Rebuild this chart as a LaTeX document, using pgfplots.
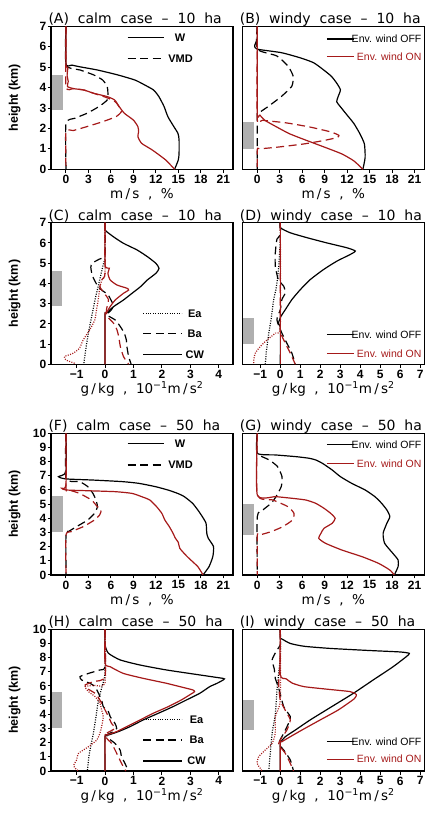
\documentclass[border=0pt]{standalone}
\usepackage{fontspec}
\setmainfont{Liberation Sans}
\newfontfamily\ttlfont[WordSpace=1.7]{DejaVu Sans}
\newfontfamily\lblfont[WordSpace=2.0]{DejaVu Sans}
\usepackage{pgfplots}
\pgfplotsset{compat=1.18}
\definecolor{dred}{RGB}{165,25,25}
\definecolor{boxgray}{RGB}{175,175,175}

\tikzset{
  k/.style={black, line width=1.2pt, smooth, tension=0.35},
  r/.style={dred, line width=1.2pt, smooth, tension=0.35},
  ds/.style={dash pattern=on 8pt off 4.5pt},
  dt/.style={dash pattern=on 1pt off 1.4pt},
}
\pgfplotsset{
  base/.style={scale only axis, width=182pt, anchor=south west, ymin=0,
    axis line style={line width=1.2pt},
    tick align=outside, xtick pos=bottom, ytick pos=left,
    major tick length=3.5pt, every tick/.style={black, line width=1pt},
    tick label style={font=\bfseries\fontsize{12}{13}\selectfont},
    yticklabel style={inner xsep=1pt},
    xticklabel style={inner ysep=2pt},
    /pgf/number format/assume math mode=true,
    every axis title/.style={at={(axis description cs:0,1)}, anchor=base west,
      xshift=-6pt, yshift=2.3pt, font=\ttlfont\fontsize{14}{16}\selectfont},
    every axis x label/.style={at={(axis description cs:0.5,0)}, anchor=base,
      yshift=-29.5pt, font=\lblfont\fontsize{13.5}{15}\selectfont},
    every axis y label/.style={at={(axis description cs:-0.2,0.5)}, rotate=90,
      anchor=center, font=\bfseries\fontsize{12.5}{14}\selectfont},
  },
  wind/.style={base, xmin=-2, xmax=22.3, xtick={0,3,...,21},
    xlabel={m\,/\,s , \%}},
  accC/.style={base, xmin=-1.9, xmax=4.5, xtick={-1,0,1,2,3,4},
    xticklabels={−1,0,1,2,3,4},
    xlabel={g\,/\,kg , 10\textsuperscript{−1}m\,/\,s\textsuperscript{2}}},
  accD/.style={base, xmin=-1.9, xmax=7.2, xtick={-1,0,...,7},
    xticklabels={−1,0,1,2,3,4,5,6,7},
    xlabel={g\,/\,kg , 10\textsuperscript{−1}m\,/\,s\textsuperscript{2}}},
  leftp/.style={ylabel={height (km)}},
  rightp/.style={ytick=\empty},
  h7/.style={height=143pt, ymax=7, ytick={0,...,7}},
  h7b/.style={height=141.6pt, ymax=7, ytick={0,...,7}},
  h10/.style={height=141.7pt, ymax=10, ytick={0,...,10}},
  gbox/.style={fill=boxgray, draw=none, forget plot},
}
% legend helpers (relative axis coordinates)
\newcommand\legline[4]{\draw[#1] (rel axis cs:#2,#4) -- (rel axis cs:#3,#4);}
\newcommand\legtxtc[3]{\node[font=\bfseries\fontsize{11}{12}\selectfont] at (rel axis cs:#1,#2) {#3};}
\newcommand\envlegend[2]{%
  \draw[black, line width=1.2pt] (rel axis cs:0.464,#1) -- (rel axis cs:0.612,#1);
  \node[anchor=east, inner sep=0pt, font=\fontsize{10.5}{12}\selectfont] at (rel axis cs:0.985,#1) {Env. wind OFF};
  \draw[dred, line width=1.2pt] (rel axis cs:0.464,#2) -- (rel axis cs:0.612,#2);
  \node[anchor=east, inner sep=0pt, text=dred, font=\fontsize{10.5}{12}\selectfont] at (rel axis cs:0.985,#2) {Env. wind ON};}

\begin{document}
\begin{tikzpicture}[x=1pt,y=1pt]
\useasboundingbox (0,0) rectangle (433,816);

% ---------------- (A) vertical velocity / VMD, calm, 10 ha
\begin{axis}[wind, h7, leftp, at={(51pt,646.7pt)}, title={(A) calm case – 10 ha}]
\addplot[gbox] coordinates {(-1.9,2.9) (-0.45,2.9) (-0.45,4.6) (-1.9,4.6)} -- cycle;
\addplot[k] coordinates {(0,7) (0,5.15) (0.8,5.1) (1.8,5.02) (4.2,4.86) (6.9,4.62) (9.2,4.37) (10.5,4.13) (11.7,3.88) (12.4,3.56) (13.1,3.07) (13.6,2.58) (14.4,2.09) (14.95,1.76) (15.1,1.44) (15.1,0.8) (15.0,0.46) (14.5,0)};
\addplot[k,ds] coordinates {(0,7) (0,5.1) (1.9,4.86) (3.7,4.62) (4.9,4.37) (5.5,4.05) (5.6,3.72) (5.5,3.39) (4.4,3.07) (2.8,2.74) (1.2,2.5) (0,2.25) (0,0)};
\addplot[r,ds] coordinates {(0,7) (0,4.05) (1.0,3.95) (2.4,3.88) (3.7,3.72) (5.5,3.5) (6.6,3.3) (7.2,3.0) (7.4,2.82) (6.7,2.58) (4.9,2.33) (2.8,2.09) (1.0,1.9) (0,1.84) (0,0)};
\addplot[r] coordinates {(0,7) (0,5.1) (0.25,5.0) (0.15,4.6) (0.3,4.3) (0.2,4.05) (1.0,3.95) (2.4,3.88) (3.7,3.72) (5.5,3.56) (6.5,3.39) (7.1,3.07) (7.8,2.74) (9.0,2.41) (9.6,2.09) (9.7,1.84) (9.6,1.6) (10.1,1.27) (11.5,0.95) (13.3,0.46) (14.5,0)};
\legline{black,line width=1.2pt}{0.421}{0.623}{0.920}
\legtxtc{0.709}{0.920}{W}
\legline{black,line width=1.2pt,ds}{0.421}{0.623}{0.776}
\legtxtc{0.712}{0.776}{VMD}
\end{axis}

% ---------------- (B) windy, 10 ha
\begin{axis}[wind, h7, rightp, at={(242.3pt,646.7pt)}, title={(B) windy case – 10 ha}]
\addplot[gbox] coordinates {(-1.95,1.0) (-0.45,1.0) (-0.45,2.3) (-1.95,2.3)} -- cycle;
\addplot[k] coordinates {(0,7) (0,6.4) (-0.35,6.05) (0,5.88) (3.2,5.71) (5.7,5.46) (7.5,5.22) (8.8,4.88) (9.9,4.55) (10.6,4.22) (11.1,3.89) (10.8,3.56) (10.6,3.31) (11.1,3.06) (12.0,2.65) (12.9,2.24) (13.7,1.74) (14.3,1.24) (14.4,0.58) (14.1,0)};
\addplot[k,ds] coordinates {(0,7) (0,5.88) (2.6,5.55) (4.1,5.05) (4.8,4.55) (4.6,4.06) (3.2,3.56) (1.4,3.06) (0.1,2.73) (0,2.6) (0,0)};
\addplot[r,ds] coordinates {(0,7) (0,2.45) (0.7,2.4) (3.9,2.27) (7.0,2.07) (9.8,1.83) (10.9,1.66) (10.6,1.55) (8.9,1.41) (6.2,1.24) (2.6,1.08) (0.3,1.0) (0,0.99) (0,0)};
\addplot[r] coordinates {(0,7) (0,2.75) (0.35,2.65) (1.0,2.4) (2.6,2.07) (4.3,1.74) (6.6,1.41) (9.0,1.08) (11.3,0.75) (12.9,0.41) (14.1,0)};
\envlegend{0.911}{0.787}
\end{axis}

% ---------------- (C) buoyancy terms, calm, 10 ha
\begin{axis}[accC, h7b, leftp, at={(51pt,451.7pt)}, title={(C) calm case – 10 ha}]
\addplot[gbox] coordinates {(-1.87,2.9) (-1.51,2.9) (-1.51,4.6) (-1.87,4.6)} -- cycle;
\addplot[k,dt] coordinates {(0,7) (0,5.3) (-0.05,5.0) (-0.15,4.4) (-0.25,3.8) (-0.35,3.2) (-0.45,2.5) (-0.55,1.8) (-0.65,1.0) (-0.75,0)};
\addplot[k,ds] coordinates {(0,7) (0,5.4) (-0.2,5.2) (-0.45,5.0) (-0.5,4.8) (-0.45,4.4) (-0.35,4.1) (-0.25,3.85) (-0.1,3.65) (0.1,3.45) (0.2,3.2) (0.3,2.9) (0.2,2.65) (0.06,2.45) (0.36,2.19) (0.54,1.86) (0.68,1.53) (0.75,1.2) (0.77,0.87) (0.83,0.38) (0.92,0)};
\addplot[k] coordinates {(0,7) (0,6.64) (0.3,6.3) (0.65,5.98) (1.13,5.65) (1.49,5.32) (1.79,4.99) (1.9,4.74) (1.79,4.5) (1.49,4.17) (1.25,3.84) (0.95,3.51) (0.65,3.18) (0.3,2.85) (0.04,2.52) (0,2.45) (0,0)};
\addplot[r,dt] coordinates {(0,7) (0,4.5) (-0.1,4.2) (-0.18,3.84) (-0.24,3.18) (-0.3,2.69) (-0.36,2.19) (-0.54,1.7) (-0.77,1.2) (-0.9,0.79) (-1.13,0.54) (-1.43,0.38) (-1.37,0.21) (-1.07,0.05) (-1.05,0)};
\addplot[r,ds] coordinates {(0,7) (0,4.5) (-0.1,4.2) (-0.18,3.84) (-0.05,3.55) (0.12,3.2) (0.05,2.7) (0.08,2.36) (0.3,2.03) (0.42,1.7) (0.48,1.37) (0.54,0.87) (0.65,0.38) (0.83,0)};
\addplot[r] coordinates {(0,7) (0,4.9) (0.15,4.75) (0.1,4.5) (0.18,4.17) (0.42,3.92) (0.77,3.76) (0.83,3.67) (0.65,3.51) (0.36,3.18) (0.18,2.85) (0.04,2.52) (0,2.45) (0,0)};
\legline{black,line width=1.2pt,dt}{0.507}{0.718}{0.36}
\legtxtc{0.79}{0.36}{Ea}
\legline{black,line width=1.2pt,ds}{0.507}{0.718}{0.219}
\legtxtc{0.79}{0.219}{Ba}
\legline{black,line width=1.2pt}{0.507}{0.718}{0.071}
\legtxtc{0.79}{0.071}{CW}
\end{axis}

% ---------------- (D) windy, 10 ha
\begin{axis}[accD, h7b, rightp, at={(242.3pt,451.7pt)}, title={(D) windy case – 10 ha}]
\addplot[gbox] coordinates {(-1.85,1.0) (-1.3,1.0) (-1.3,2.3) (-1.85,2.3)} -- cycle;
\addplot[k,dt] coordinates {(0,7) (0,6.2) (-0.08,4.8) (-0.2,3.8) (-0.33,3.2) (-0.45,2.3) (-0.58,1.5) (-0.7,0.6) (-0.75,0)};
\addplot[k,ds] coordinates {(0,7) (0,6.4) (-0.17,6.18) (-0.25,5.5) (-0.25,4.85) (-0.1,4.19) (0.17,3.86) (0.25,3.53) (0.08,3.2) (0,2.7) (-0.17,2.2) (0.08,1.54) (0.33,1.04) (0.58,0.55) (0.75,0)};
\addplot[k] coordinates {(0,7) (0,6.75) (0.5,6.5) (1.33,6.26) (2.33,6.0) (3.33,5.76) (3.75,5.6) (3.5,5.43) (2.83,5.1) (2.17,4.69) (1.5,4.19) (1.0,3.69) (0.58,3.2) (0.25,2.7) (0.03,2.37) (0,2.3) (-0.1,2.0) (0,1.8) (0,0)};
\addplot[r,dt] coordinates {(0,7) (0,1.9) (-0.25,1.54) (-0.67,1.2) (-1.0,0.88) (-1.25,0.55) (-1.33,0.21) (-1.33,0)};
\addplot[r,ds] coordinates {(0,7) (0,1.9) (0.02,1.54) (0.25,1.04) (0.5,0.55) (0.75,0)};
\addplot[r] coordinates {(0,7) (0,0)};
\envlegend{0.212}{0.078}
\end{axis}

% ---------------- (F) calm, 50 ha
\begin{axis}[wind, h10, leftp, at={(51pt,241pt)}, title={(F) calm case – 50 ha}]
\addplot[gbox] coordinates {(-1.9,3.0) (-0.45,3.0) (-0.45,5.55) (-1.9,5.55)} -- cycle;
\addplot[k] coordinates {(0,10) (0,7.3) (-1.0,6.94) (0,6.78) (3.6,6.7) (7.5,6.59) (9.7,6.47) (11.9,6.24) (13.6,6.0) (14.9,5.76) (15.8,5.53) (16.9,5.06) (17.6,4.59) (18.2,4.12) (18.7,3.65) (18.8,2.94) (19.0,2.59) (19.7,2.0) (19.6,1.29) (19.1,0.59) (18.3,0)};
\addplot[k,ds] coordinates {(0,10) (0,6.8) (1.8,6.59) (2.9,6.24) (3.6,5.76) (4.0,5.29) (4.2,4.82) (3.8,4.35) (2.9,3.88) (1.4,3.41) (0.3,3.06) (0,2.95) (0,0)};
\addplot[r,ds] coordinates {(0,10) (0,6.1) (0.4,6.0) (1.8,5.76) (3.4,5.29) (4.2,4.82) (4.7,4.59) (4.5,4.24) (3.8,3.88) (2.3,3.41) (0.7,3.06) (0,2.82) (0,0)};
\addplot[r] coordinates {(0,10) (0,6.35) (-0.57,6.12) (0,6.0) (2.7,5.95) (6.6,5.88) (8.8,5.76) (10.1,5.53) (11.2,5.29) (12.1,4.82) (12.8,4.35) (13.2,3.88) (13.8,3.41) (14.3,2.94) (14.6,2.6) (15.0,2.3) (15.2,1.88) (16.2,1.29) (17.6,0.59) (18.3,0)};
\legline{black,line width=1.2pt}{0.421}{0.623}{0.929}
\legtxtc{0.709}{0.929}{W}
\legline{black,line width=1.2pt,ds}{0.421}{0.623}{0.776}
\legtxtc{0.712}{0.776}{VMD}
\end{axis}

% ---------------- (G) windy, 50 ha
\begin{axis}[wind, h10, rightp, at={(242.3pt,241pt)}, title={(G) windy case – 50 ha}]
\addplot[gbox] coordinates {(-1.95,2.85) (-0.45,2.85) (-0.45,5.0) (-1.95,5.0)} -- cycle;
\addplot[k] coordinates {(0,10) (0,8.59) (2.5,8.47) (5.2,8.35) (6.9,8.24) (7.8,8.12) (8.7,7.88) (10.0,7.41) (11.1,6.94) (12.6,6.47) (14.4,6.0) (15.7,5.53) (16.6,5.06) (17.3,4.59) (17.7,4.12) (17.3,3.65) (16.8,2.94) (17.0,2.24) (18.1,1.53) (18.8,1.06) (18.8,0.59) (18.3,0)};
\addplot[k,ds] coordinates {(0,10) (0,8.59) (1.6,8.12) (2.7,7.65) (3.3,6.94) (3.2,6.24) (2.5,5.53) (1.85,5.06) (0.75,4.59) (0,4.12) (0,0)};
\addplot[r,ds] coordinates {(0,10) (0,5.65) (2.1,5.29) (4.1,4.82) (4.9,4.35) (4.7,3.88) (3.4,3.41) (1.85,3.06) (0.3,2.82) (0,2.78) (0,0)};
\addplot[r] coordinates {(0,10) (0,5.65) (2.5,5.53) (4.7,5.41) (6.5,5.29) (7.8,5.06) (8.9,4.71) (9.8,4.35) (10.4,4.0) (10.0,3.65) (8.9,3.29) (8.5,2.94) (8.2,2.59) (9.1,2.24) (11.3,1.76) (14.0,1.29) (16.2,0.82) (17.7,0.35) (18.3,0)};
\envlegend{0.922}{0.788}
\end{axis}

% ---------------- (H) calm, 50 ha
\begin{axis}[accC, h10, leftp, at={(51pt,45pt)}, title={(H) calm case – 50 ha}]
\addplot[gbox] coordinates {(-1.87,3.05) (-1.51,3.05) (-1.51,5.6) (-1.87,5.6)} -- cycle;
\addplot[k,dt] coordinates {(0,10) (0,6.9) (-0.1,6.0) (-0.23,5.01) (-0.32,3.8) (-0.41,2.66) (-0.55,1.25) (-0.62,0)};
\addplot[k,ds] coordinates {(0,10) (0,7.36) (-0.18,7.13) (-0.58,6.89) (-0.88,6.66) (-0.82,6.42) (-0.53,6.19) (-0.35,5.95) (-0.23,5.48) (-0.12,5.01) (-0.06,4.54) (0.12,4.19) (0.18,3.84) (0.35,3.36) (0.41,3.01) (0.29,2.78) (0.06,2.54) (0.12,2.31) (0.35,1.95) (0.53,1.48) (0.58,1.01) (0.7,0.54) (0.82,0)};
\addplot[k] coordinates {(0,10) (0,8.9) (0.12,8.31) (0.53,7.84) (1.23,7.48) (2.16,7.13) (3.33,6.78) (3.9,6.61) (4.2,6.5) (3.95,6.2) (3.68,5.95) (3.33,5.48) (2.86,5.01) (2.39,4.54) (1.87,4.07) (1.34,3.6) (0.88,3.13) (0.47,2.78) (0.12,2.54) (0,2.42) (0,0)};
\addplot[r,dt] coordinates {(0,10) (0,6.2) (-0.4,6.05) (-0.7,5.95) (-0.58,5.6) (-0.35,5.25) (-0.18,4.78) (-0.12,4.31) (-0.06,3.84) (-0.12,3.13) (-0.18,2.66) (-0.29,2.19) (-0.58,1.72) (-0.93,1.25) (-1.0,0.78) (-1.1,0.42) (-1.05,0.19) (-0.93,0)};
\addplot[r,ds] coordinates {(0,10) (0,6.66) (-0.41,6.31) (-0.7,6.07) (-0.64,5.84) (-0.35,5.48) (-0.18,5.01) (0.0,4.31) (0.12,3.84) (0.23,3.36) (0.35,3.01) (0.06,2.66) (0.06,2.31) (0.23,1.95) (0.41,1.25) (0.58,0.54) (0.73,0)};
\addplot[r] coordinates {(0,10) (0,7.6) (0.18,7.36) (0.64,6.89) (1.34,6.54) (2.16,6.19) (2.74,5.9) (3.09,5.72) (3.15,5.6) (3.03,5.44) (2.68,5.01) (2.22,4.54) (1.69,4.07) (1.23,3.6) (0.76,3.13) (0.41,2.78) (0.06,2.54) (0,2.45) (0,0)};
\legline{black,line width=1.2pt,dt}{0.507}{0.718}{0.365}
\legtxtc{0.8}{0.365}{Ea}
\legline{black,line width=1.2pt,ds}{0.507}{0.718}{0.219}
\legtxtc{0.8}{0.219}{Ba}
\legline{black,line width=1.2pt}{0.507}{0.718}{0.071}
\legtxtc{0.8}{0.071}{CW}
\end{axis}

% ---------------- (I) windy, 50 ha
\begin{axis}[accD, h10, rightp, at={(242.3pt,45pt)}, title={(I) windy case – 50 ha}]
\addplot[gbox] coordinates {(-1.85,2.9) (-1.3,2.9) (-1.3,5.0) (-1.85,5.0)} -- cycle;
\addplot[k,dt] coordinates {(0,10) (0,8.0) (-0.15,6.0) (-0.25,4.0) (-0.41,2.66) (-0.53,0.78) (-0.58,0)};
\addplot[k,ds] coordinates {(0,10) (0,8.9) (-0.17,8.54) (-0.41,7.84) (-0.3,7.2) (-0.25,6.54) (-0.08,5.84) (0.17,4.54) (0.5,3.84) (0.41,3.36) (0.17,2.66) (-0.08,1.95) (0.17,1.48) (0.5,0.78) (0.66,0)};
\addplot[k] coordinates {(0,10) (0,9.36) (0.1,9.3) (0.5,9.0) (1.2,8.8) (2.5,8.65) (4.5,8.5) (6.0,8.4) (6.45,8.3) (6.3,8.07) (5.64,7.36) (4.64,6.42) (3.65,5.48) (2.57,4.54) (1.49,3.6) (0.75,2.89) (0.25,2.42) (0.03,2.07) (0,2.0) (0,0)};
\addplot[r,dt] coordinates {(0,10) (0,5.0) (-0.25,3.84) (-0.25,2.66) (-0.41,1.95) (-0.75,1.48) (-1.08,1.01) (-1.16,0.54) (-1.0,0.19) (-0.91,0)};
\addplot[r,ds] coordinates {(0,10) (0,7.8) (-0.08,6.19) (0,5.01) (0.33,4.07) (0.5,3.6) (0.33,2.89) (-0.08,1.95) (0.25,1.25) (0.5,0.54) (0.66,0)};
\addplot[r] coordinates {(0,10) (0,6.78) (0.3,6.5) (0.6,6.2) (1.2,5.95) (2.5,5.75) (3.5,5.6) (3.8,5.4) (3.7,5.1) (2.9,4.31) (1.99,3.6) (1.08,2.89) (0.5,2.42) (0.08,2.07) (0,2.0) (0,0)};
\envlegend{0.207}{0.083}
\end{axis}
\end{tikzpicture}
\end{document}
